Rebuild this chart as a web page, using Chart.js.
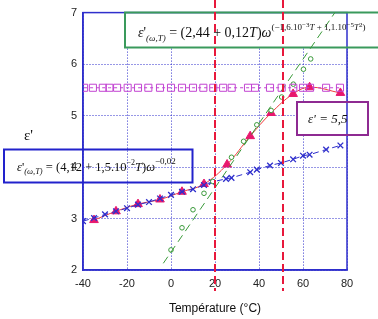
<!DOCTYPE html>
<html>
<head>
<meta charset="utf-8">
<script src="https://cdn.jsdelivr.net/npm/chart.js@4"></script>
<style>
  html, body { margin: 0; padding: 0; background: #fff; }
  #wrap { width: 378px; height: 319px; position: relative; }
</style>
</head>
<body>
<div id="wrap"><canvas id="epsChart"></canvas></div>
<script>
// measured points (temperature in °C, permittivity)
var triT = [-35, -25, -15, -5, 5, 15, 25.5, 36, 45.5, 55.5, 63, 77];
var triV = [2.97, 3.14, 3.28, 3.37, 3.52, 3.67, 4.05, 4.6, 5.05, 5.42, 5.55, 5.44];

var crossT = [-40, -35, -30, -25, -20, -15, -10, -5, 0, 5, 10, 15, 18.5, 25, 27.5, 36, 39, 45, 50, 55.5, 60, 63, 70.5, 77];
var crossV = [2.95, 3.01, 3.08, 3.14, 3.2, 3.27, 3.32, 3.39, 3.46, 3.52, 3.57, 3.65, 3.71, 3.77, 3.79, 3.9, 3.95, 4.03, 4.08, 4.15, 4.22, 4.24, 4.34, 4.42];

var circT = [0, 5, 10, 15, 19, 27.5, 33, 39, 45.5, 50.3, 55.6, 60.2, 63.5];
var circV = [2.39, 2.82, 3.17, 3.49, 3.72, 4.19, 4.5, 4.82, 5.1, 5.36, 5.61, 5.9, 6.1];

var fitT = [-3.5, 74.5];
var fitV = [2.13, 7.0];

var sqT = [-39.5, -35.5, -31, -28, -24.5, -19.7, -15, -10.3, -5, 0, 5, 10, 14.7, 19.2, 23.7, 27.6, 35, 38.2, 45, 50.3, 55.6, 60, 63.2, 70.5, 76.8];
var sqV = [5.54, 5.54, 5.54, 5.54, 5.54, 5.54, 5.54, 5.54, 5.54, 5.54, 5.54, 5.54, 5.54, 5.54, 5.54, 5.54, 5.54, 5.54, 5.54, 5.54, 5.54, 5.54, 5.54, 5.54, 5.54];

var limitT = [20, 51];

var xTicks = [-40, -20, 0, 20, 40, 60, 80];
var yTicks = [2, 3, 4, 5, 6, 7];

function pts(xs, ys) {
    return xs.map(function (x, i) { return { x: x, y: ys[i] }; });
}

var BLUE = '#2f2fcc';
var SERIF = '"Liberation Serif", "DejaVu Serif", serif';

// draws a formula made of pieces: [text, size, italic, dy]
function drawFormula(ctx, x, y, pieces) {
    ctx.textBaseline = 'alphabetic';
    ctx.textAlign = 'left';
    pieces.forEach(function (p) {
        ctx.font = (p[2] ? 'italic ' : '') + p[1] + 'px ' + SERIF;
        ctx.fillText(p[0], x, y + (p[3] || 0));
        x += ctx.measureText(p[0]).width;
    });
}

var overlays = {
    id: 'overlays',
    beforeDatasetsDraw: function (chart) {
        var ctx = chart.ctx, a = chart.chartArea;
        ctx.save();
        // green box (white fill hides the grid)
        ctx.fillStyle = '#fff';
        ctx.fillRect(125, 12.5, 260, 35);
        // purple box
        ctx.fillRect(297, 102, 71, 33);
        // plot frame
        ctx.strokeStyle = BLUE;
        ctx.lineWidth = 1.5;
        ctx.strokeRect(a.left, a.top, a.right - a.left, a.bottom - a.top);
        ctx.lineWidth = 2;
        ctx.strokeStyle = '#3a9a5c';
        ctx.strokeRect(125, 12.5, 260, 35);
        ctx.strokeStyle = '#8e2a92';
        ctx.strokeRect(297, 102, 71, 33);
        ctx.restore();
    },
    afterDatasetsDraw: function (chart) {
        var ctx = chart.ctx, xs = chart.scales.x;
        ctx.save();
        // vertical limits
        ctx.strokeStyle = '#e8183c';
        ctx.lineWidth = 2;
        ctx.setLineDash([8, 4]);
        limitT.forEach(function (t) {
            var px = Math.round(xs.getPixelForValue(t));
            ctx.beginPath();
            ctx.moveTo(px, 0);
            ctx.lineTo(px, 291);
            ctx.stroke();
        });
        ctx.setLineDash([]);

        // blue box, no fill
        ctx.strokeStyle = '#2222cc';
        ctx.lineWidth = 2;
        ctx.strokeRect(4, 149.5, 188.5, 33);

        ctx.fillStyle = '#111';
        drawFormula(ctx, 138, 37, [
            ['\u03b5', 14, true], ["'", 14, false], ['(\u03c9,T)', 9, true, 4],
            [' = (2,44 + 0,12', 14, false], ['T', 14, true], [')', 14, false], ['\u03c9', 14, true],
            ['(\u22121,6.10', 9, false, -7], ['\u22123', 7, false, -10], ['T', 9, true, -7],
            [' + 1,1.10', 9, false, -7], ['\u22125', 7, false, -10], ['T', 9, true, -7],
            ['2', 7, false, -10], [')', 9, false, -7]
        ]);
        drawFormula(ctx, 17, 171, [
            ['\u03b5', 12.5, true], ["'", 12.5, false], ['(\u03c9,T)', 8.5, true, 3],
            [' = (4,12 + 1,5.10', 12.5, false], ['\u22122', 8, false, -6], ['T', 12.5, true],
            [')', 12.5, false], ['\u03c9', 12.5, true], ['\u22120,02', 9, false, -7]
        ]);
        drawFormula(ctx, 308, 123, [
            ['\u03b5', 13, true], ["' = 5,5", 13, true]
        ]);
        // y axis label
        drawFormula(ctx, 24, 140, [['\u03b5\'', 15, false]]);
        ctx.restore();
    }
};

var ctx = document.getElementById('epsChart').getContext('2d');
var chart = new Chart(ctx, {
    type: 'scatter',
    data: {
        datasets: [
            {
                label: 'eps = 5,5',
                data: pts(sqT, sqV),
                showLine: true,
                borderColor: '#c244d2',
                borderWidth: 1,
                borderDash: [3, 3],
                pointStyle: 'rect',
                pointRadius: 5,
                pointBorderWidth: 1,
                pointBackgroundColor: 'rgba(0,0,0,0)',
                pointBorderColor: '#c244d2'
            },
            {
                label: 'fit',
                data: pts(fitT, fitV),
                showLine: true,
                borderColor: '#3a9a3a',
                borderWidth: 1,
                borderDash: [8, 5],
                pointRadius: 0
            },
            {
                label: 'circles',
                data: pts(circT, circV),
                showLine: false,
                pointStyle: 'circle',
                pointRadius: 2.3,
                pointBorderWidth: 1,
                pointBackgroundColor: '#fff',
                pointBorderColor: '#3a9a3a'
            },
            {
                label: 'crosses',
                data: pts(crossT, crossV),
                showLine: true,
                borderColor: BLUE,
                borderWidth: 1,
                borderDash: [6, 4],
                pointStyle: 'crossRot',
                pointRadius: 4,
                pointBorderWidth: 1.3,
                pointBorderColor: BLUE
            },
            {
                label: 'triangles',
                data: pts(triT, triV),
                showLine: true,
                tension: 0.4,
                borderColor: '#f03c3c',
                borderWidth: 1,
                pointStyle: 'triangle',
                pointRadius: 5,
                pointBackgroundColor: '#e8186e',
                pointBorderColor: '#e8186e'
            }
        ]
    },
    options: {
        responsive: true,
        maintainAspectRatio: false,
        animation: false,
        layout: { padding: { top: 7, right: 31, left: 0, bottom: 0 } },
        plugins: { legend: { display: false }, tooltip: { enabled: false } },
        scales: {
            x: {
                type: 'linear',
                min: -40,
                max: 80,
                afterBuildTicks: function (s) { s.ticks = xTicks.map(function (v) { return { value: v }; }); },
                afterFit: function (s) { s.height = 49; },
                ticks: { color: '#222', font: { family: '"Liberation Sans", Arial', size: 11 }, padding: 7 },
                grid: { color: BLUE, lineWidth: 1, drawTicks: false },
                border: { color: BLUE, width: 1.5, dash: [1, 2] },
                title: {
                    display: true,
                    text: 'Température (°C)',
                    color: '#111',
                    font: { family: '"Liberation Sans", Arial', size: 12 },
                    padding: { top: 0, bottom: 3 }
                }
            },
            y: {
                min: 2,
                max: 7,
                afterBuildTicks: function (s) { s.ticks = yTicks.map(function (v) { return { value: v }; }); },
                afterFit: function (s) { s.width = 83; },
                ticks: { color: '#222', font: { family: '"Liberation Sans", Arial', size: 11 }, padding: 6 },
                grid: { color: BLUE, lineWidth: 1, drawTicks: false },
                border: { color: BLUE, width: 1.5, dash: [1, 2] }
            }
        }
    },
    plugins: [overlays]
});
</script>
</body>
</html>
